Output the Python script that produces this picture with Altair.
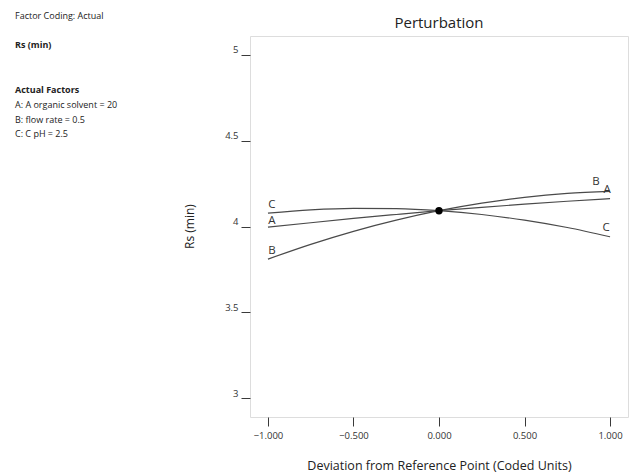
import altair as alt
import pandas as pd

# ---- data ----
x_dev = [-1.0, -0.75, -0.5, -0.25, 0.0, 0.25, 0.5, 0.75, 1.0]
rs_A = [3.996, 4.022, 4.047, 4.070, 4.092, 4.112, 4.130, 4.147, 4.162]
rs_B = [3.810, 3.896, 3.972, 4.037, 4.092, 4.136, 4.170, 4.193, 4.205]
rs_C = [4.078, 4.097, 4.106, 4.104, 4.092, 4.070, 4.037, 3.994, 3.940]
factors = ["A", "B", "C"]
ref_x = [0.0]
ref_y = [4.092]
x_ticks = [-1.0, -0.5, 0.0, 0.5, 1.0]
y_ticks = [3, 3.5, 4, 4.5, 5]

title_text = "Perturbation"
x_title = "Deviation from Reference Point (Coded Units)"
y_title = "Rs (min)"
info_header = "Factor Coding: Actual"
info_response = "Rs (min)"
info_factors_title = "Actual Factors"
info_factor_lines = ["A: A organic solvent = 20", "B: flow rate = 0.5", "C: C pH = 2.5"]

FONT = "Open Sans"
INK = "#3a3a3a"

rows = []
for f, vals in zip(factors, [rs_A, rs_B, rs_C]):
    for xv, yv in zip(x_dev, vals):
        rows.append({"factor": f, "x": xv, "rs": yv})
df = pd.DataFrame(rows)
ref_df = pd.DataFrame({"x": ref_x, "rs": ref_y})

x_enc = alt.X(
    "x:Q",
    scale=alt.Scale(domain=[-1.105, 1.105], nice=False, zero=False),
    axis=alt.Axis(
        values=x_ticks, format=".3f", title=x_title, grid=False, domain=False,
        tickSize=9, tickColor=INK, tickWidth=1, labelPadding=4,
        labelFontSize=9.5, labelFont=FONT, labelColor="#333",
        titleFont=FONT, titleFontSize=12.5, titleFontWeight="normal", titleColor="#222",
        titleY=48, titleX=189, titleBaseline="middle",
    ),
)
y_enc = alt.Y(
    "rs:Q",
    scale=alt.Scale(domain=[2.89, 5.11], nice=False, zero=False),
    axis=alt.Axis(
        values=y_ticks, format=".1~f", title=y_title, grid=False, domain=False,
        tickSize=9, tickColor=INK, tickWidth=1, labelPadding=3,
        labelFontSize=9.5, labelFont=FONT, labelColor="#333", labelBaseline="bottom",
        titleFont=FONT, titleFontSize=12, titleFontWeight="normal", titleColor="#222",
        titleX=-61, titleY=190, titleAngle=-90, titleBaseline="middle", titleAlign="center",
    ),
)

base = alt.Chart(df)

lines = base.mark_line(color="#4a4a4a", strokeWidth=1.2, interpolate="monotone").encode(
    x=x_enc, y=y_enc, detail="factor:N"
)

ref_pt = alt.Chart(ref_df).mark_circle(color="black", size=55, opacity=1).encode(x=x_enc, y=y_enc)

lbl_style = dict(fontSize=11.5, font=FONT, color="#333", baseline="middle")


def end_label(xv, factor, dx, dy):
    return base.transform_filter(
        f"datum.x == {xv} && datum.factor == '{factor}'"
    ).mark_text(dx=dx, dy=dy, **lbl_style).encode(x=x_enc, y=y_enc, text="factor:N")


labels = [
    end_label(-1, "C", 4, -8),
    end_label(-1, "A", 4, -6),
    end_label(-1, "B", 4, -8),
    end_label(1, "B", -14, -9),
    end_label(1, "A", -3, -9),
    end_label(1, "C", -4, -9),
]


def txt(text, xpix, ypix, size, bold=False, align="left", color="#222"):
    return alt.Chart(pd.DataFrame({"t": [text]})).mark_text(
        align=align, baseline="middle", font=FONT, fontSize=size,
        fontWeight="bold" if bold else "normal", color=color,
    ).encode(x=alt.value(xpix - 250), y=alt.value(ypix - 36), text="t:N")


info_layers = [
    txt(info_header, 15, 16, 9),
    txt(info_response, 15, 45, 9, bold=True),
    txt(info_factors_title, 15, 90, 9, bold=True),
    txt(info_factor_lines[0], 15, 105, 9),
    txt(info_factor_lines[1], 15, 119.5, 9),
    txt(info_factor_lines[2], 15, 134, 9),
    txt(title_text, 439, 23, 15, align="center"),
]

chart = alt.layer(lines, ref_pt, *labels, *info_layers).properties(
    width=378,
    height=381,
    autosize=alt.AutoSizeParams(type="none"),
    padding={"left": 250, "top": 36, "right": 3, "bottom": 55},
).configure_view(stroke="#333", strokeWidth=1.4).configure(background="white")

chart.save("out.html", embed_options={"renderer": "svg", "actions": False})
